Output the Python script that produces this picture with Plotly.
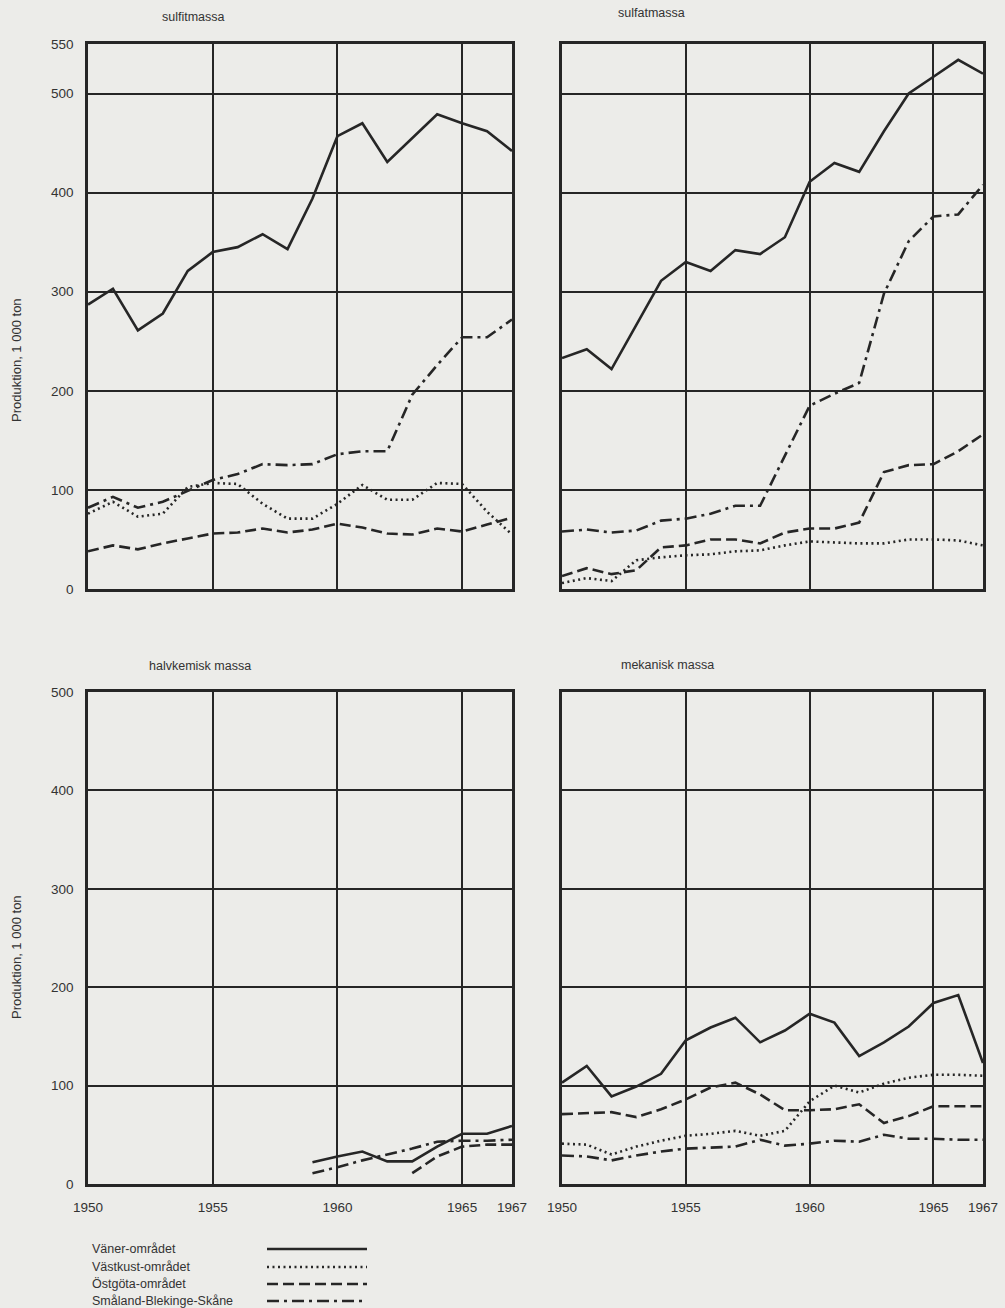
import plotly.graph_objects as go

# ---------------- data (1000 ton) ----------------
years = list(range(1950, 1968))

series_names = ["Väner-området", "Västkust-området", "Östgöta-området", "Småland-Blekinge-Skåne"]

# sulfitmassa
sulfit_vaner    = [287, 303, 261, 278, 321, 340, 345, 358, 343, 394, 457, 470, 431, 455, 479, 470, 462, 442]
sulfit_vastkust = [76, 88, 73, 76, 103, 107, 106, 86, 71, 71, 86, 105, 90, 90, 107, 106, 78, 55]
sulfit_ostgota  = [38, 44, 40, 46, 51, 56, 57, 61, 57, 60, 66, 62, 56, 55, 61, 58, 65, 72]
sulfit_smaland  = [82, 93, 82, 88, 99, 110, 116, 126, 125, 126, 136, 139, 139, 196, 226, 254, 254, 272]

# sulfatmassa
sulfat_vaner    = [233, 242, 222, 267, 311, 330, 321, 342, 338, 355, 411, 430, 421, 462, 500, 517, 534, 520]
sulfat_vastkust = [6, 11, 8, 29, 32, 34, 35, 38, 39, 44, 48, 47, 46, 46, 50, 50, 49, 44]
sulfat_ostgota  = [13, 21, 15, 19, 42, 44, 50, 50, 46, 57, 61, 61, 67, 118, 125, 126, 139, 156]
sulfat_smaland  = [58, 60, 57, 59, 69, 71, 76, 84, 84, 134, 185, 197, 208, 298, 351, 376, 378, 408]

# halvkemisk massa (production starts late 1950s)
halv_vaner    = [None] * 9 + [22, 28, 33, 23, 23, 38, 51, 51, 59]
halv_vastkust = [None] * 18
halv_ostgota  = [None] * 13 + [11, 28, 38, 40, 40]
halv_smaland  = [None] * 9 + [11, 17, 24, 30, 36, 43, 44, 44, 45]

# mekanisk massa
mek_vaner    = [103, 120, 89, 99, 112, 146, 159, 169, 144, 156, 173, 164, 130, 144, 160, 184, 192, 123]
mek_vastkust = [41, 40, 30, 38, 44, 49, 51, 54, 49, 54, 84, 100, 93, 102, 108, 111, 111, 110]
mek_ostgota  = [71, 72, 73, 68, 76, 86, 98, 103, 91, 75, 75, 76, 81, 62, 69, 79, 79, 79]
mek_smaland  = [29, 28, 24, 29, 33, 36, 37, 38, 45, 39, 41, 44, 43, 50, 46, 46, 45, 45]

panel_titles = ["sulfitmassa", "sulfatmassa", "halvkemisk massa", "mekanisk massa"]
x_tickvals = [1950, 1955, 1960, 1965, 1967]
x_ticktext = ["1950", "1955", "1960", "1965", "1967"]
y_ticks_top = [0, 100, 200, 300, 400, 500, 550]
y_ticks_bottom = [0, 100, 200, 300, 400, 500]
y_title = "Produktion, 1 000 ton"

# ---------------- styling ----------------
W, H = 1005, 1308
INK = "#262626"
BG = "#ecece9"
FONT = "Liberation Sans, Arial, sans-serif"
styles = [
    dict(dash="solid", width=2.6),
    dict(dash="2px,3.5px", width=2.6),
    dict(dash="11px,5px", width=2.6),
    dict(dash="12px,5px,3px,5px", width=2.6),
]

def fx(p):
    return p / W

def fy(p):
    return 1 - p / H

panels = [
    dict(data=[sulfit_vaner, sulfit_vastkust, sulfit_ostgota, sulfit_smaland],
         x=(88, 512), y=(44, 589), yr=550, yt=y_ticks_top, left=True, bottom=False),
    dict(data=[sulfat_vaner, sulfat_vastkust, sulfat_ostgota, sulfat_smaland],
         x=(562, 983), y=(44, 589), yr=550, yt=y_ticks_top, left=False, bottom=False),
    dict(data=[halv_vaner, halv_vastkust, halv_ostgota, halv_smaland],
         x=(88, 512), y=(692, 1184), yr=500, yt=y_ticks_bottom, left=True, bottom=True),
    dict(data=[mek_vaner, mek_vastkust, mek_ostgota, mek_smaland],
         x=(562, 983), y=(692, 1184), yr=500, yt=y_ticks_bottom, left=False, bottom=True),
]

fig = go.Figure()
layout = dict(
    width=W, height=H,
    margin=dict(l=0, r=0, t=0, b=0, pad=0, autoexpand=False),
    paper_bgcolor=BG, plot_bgcolor=BG,
    showlegend=False,
    font=dict(family=FONT, size=13, color="#333333"),
)

for i, p in enumerate(panels):
    k = "" if i == 0 else str(i + 1)
    for j, vals in enumerate(p["data"]):
        fig.add_trace(go.Scatter(
            x=years, y=vals, mode="lines", name=series_names[j],
            line=dict(color=INK, width=styles[j]["width"], dash=styles[j]["dash"]),
            connectgaps=False, xaxis="x" + k, yaxis="y" + k,
            hoverinfo="x+y+name",
        ))
    layout["xaxis" + k] = dict(
        domain=[fx(p["x"][0]), fx(p["x"][1])], anchor="y" + k, automargin=False,
        range=[1950, 1967], tickvals=x_tickvals, ticktext=x_ticktext,
        showticklabels=p["bottom"], ticks="", ticklabelstandoff=9,
        showgrid=True, gridcolor=INK, gridwidth=1.5, zeroline=False,
        showline=True, mirror=True, linecolor=INK, linewidth=2.6,
        tickfont=dict(size=13.5, color="#333333"),
    )
    layout["yaxis" + k] = dict(
        domain=[fy(p["y"][1]), fy(p["y"][0])], anchor="x" + k, automargin=False,
        range=[0, p["yr"]], tickvals=p["yt"],
        showticklabels=p["left"], ticks="", ticklabelstandoff=9,
        showgrid=True, gridcolor=INK, gridwidth=1.5, zeroline=False,
        showline=True, mirror=True, linecolor=INK, linewidth=2.6,
        tickfont=dict(size=13.5, color="#333333"),
    )

annotations = []
title_pos = [(193, 17), (651, 13), (200, 666), (667, 665)]
for t, (ax, ay) in zip(panel_titles, title_pos):
    annotations.append(dict(text=t, x=fx(ax), y=fy(ay), xref="paper", yref="paper",
                            showarrow=False, xanchor="center", yanchor="middle",
                            font=dict(size=12.5, color="#333333")))
for cy in (360, 957):
    annotations.append(dict(text=y_title, x=fx(16), y=fy(cy), xref="paper", yref="paper",
                            showarrow=False, textangle=-90, xanchor="center", yanchor="middle",
                            font=dict(size=13, color="#333333")))

# legend (text left, line sample right)
shapes = []
leg_y = [1249, 1267, 1284, 1301]
for j, name in enumerate(series_names):
    annotations.append(dict(text=name, x=fx(90), y=fy(leg_y[j]), xref="paper", yref="paper",
                            showarrow=False, xanchor="left", yanchor="middle",
                            font=dict(size=12.5, color="#333333")))
    shapes.append(dict(type="line", xref="paper", yref="paper",
                       x0=fx(267), x1=fx(367), y0=fy(leg_y[j]), y1=fy(leg_y[j]),
                       line=dict(color=INK, width=styles[j]["width"], dash=styles[j]["dash"])))

layout["annotations"] = annotations
layout["shapes"] = shapes
fig.update_layout(**layout)
fig.write_html("out.html", config={"displayModeBar": False},
               post_script="document.body.style.margin='0';")
